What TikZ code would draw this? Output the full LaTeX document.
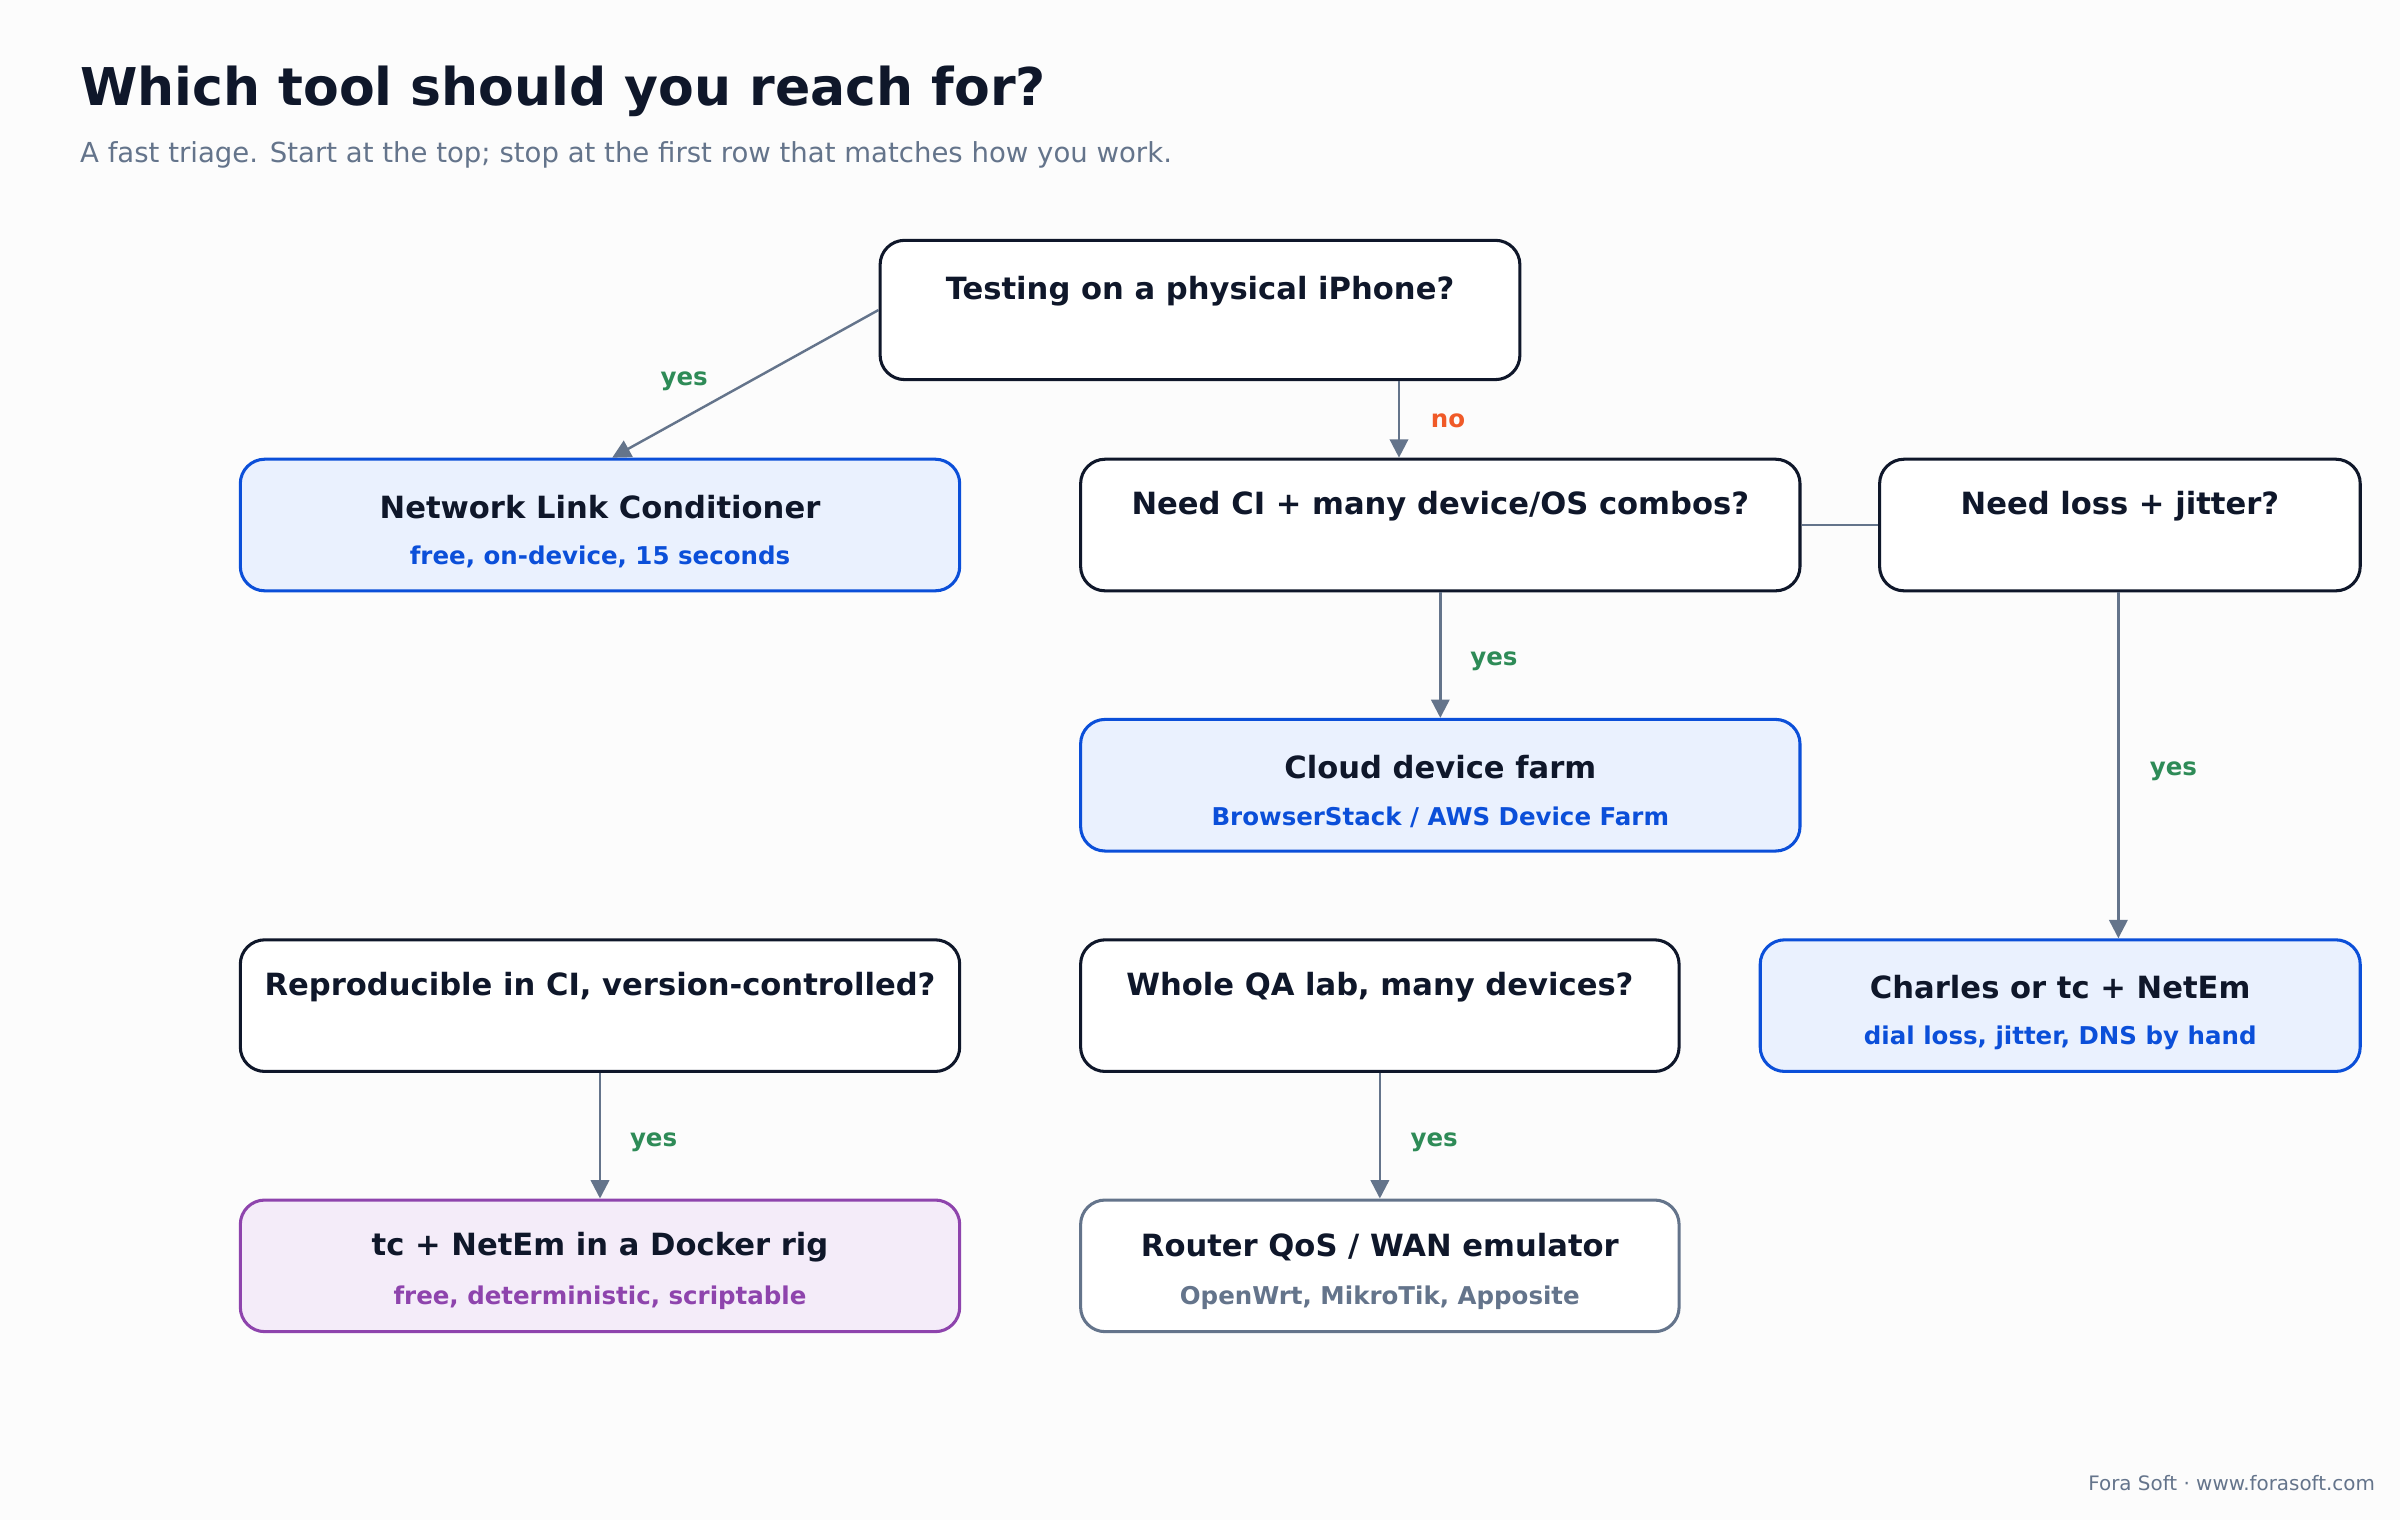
\documentclass[tikz,border=0pt]{standalone}
\usepackage{fontspec}
\setmainfont{DejaVu Sans}
\usetikzlibrary{arrows.meta}
\definecolor{ink}{HTML}{0F172A}
\definecolor{muted}{HTML}{64748B}
\definecolor{blueline}{HTML}{0B4FD9}
\definecolor{bluefill}{HTML}{EAF1FE}
\definecolor{purpline}{HTML}{8E44AD}
\definecolor{purpfill}{HTML}{F4ECF9}
\definecolor{yesgreen}{HTML}{2E8B57}
\definecolor{noorange}{HTML}{F05A28}
\tikzset{
  box/.style={draw=ink,fill=white,line width=1pt,rounded corners=8pt,inner sep=0pt},
  pick/.style={box,draw=blueline,fill=bluefill},
  rig/.style={box,draw=purpline,fill=purpfill},
  hw/.style={box,draw=muted},
  head/.style={font=\bfseries\fontsize{10}{12}\selectfont,text=ink},
  sub/.style={font=\bfseries\fontsize{8}{10}\selectfont},
  edge/.style={draw=muted,line width=0.8pt,-{Triangle[length=6pt,width=6pt]}},
  yes/.style={font=\bfseries\fontsize{8}{10}\selectfont,text=yesgreen},
  no/.style={font=\bfseries\fontsize{8}{10}\selectfont,text=noorange}
}
\begin{document}
\begin{tikzpicture}[x=0.5pt,y=-0.5pt]
\fill[white!99!black] (0,0) rectangle (1568,993);
\useasboundingbox (0,0) rectangle (1568,993);
% title
\node[anchor=base west,inner sep=0pt,font=\bfseries\fontsize{17}{20}\selectfont,text=ink] (title) at (52,69) {Which tool should you reach for?};
\node[anchor=base west,inner sep=0pt,font=\fontsize{9}{11}\selectfont,text=muted] (subtitle) at (52,106) {A fast triage. Start at the top; stop at the first row that matches how you work.};
% boxes
\node[box,minimum width=209pt,minimum height=45.5pt] (top) at (784,202.5) {};
\node[pick,minimum width=235pt,minimum height=43pt] (nlc) at (392,343) {};
\node[box,minimum width=235pt,minimum height=43pt] (ci) at (941,343) {};
\node[box,minimum width=157pt,minimum height=43pt] (loss) at (1385,343) {};
\node[pick,minimum width=235pt,minimum height=43pt] (cloud) at (941,513) {};
\node[box,minimum width=235pt,minimum height=43pt] (repro) at (392,657) {};
\node[box,minimum width=195.5pt,minimum height=43pt] (qa) at (901.5,657) {};
\node[pick,minimum width=196pt,minimum height=43pt] (charles) at (1346,657) {};
\node[rig,minimum width=235pt,minimum height=43pt] (tc) at (392,827) {};
\node[hw,minimum width=195.5pt,minimum height=43pt] (router) at (901.5,827) {};
% box texts
\node[head] (topT) at (784,190) {Testing on a physical iPhone?};
\node[head] (nlcT) at (392,331) {Network Link Conditioner};
\node[sub,text=blueline] (nlcS) at (392,364) {free, on-device, 15 seconds};
\node[head] (ciT) at (941,331) {Need CI + many device/OS combos?};
\node[head] (lossT) at (1385,331) {Need loss + jitter?};
\node[head] (cloudT) at (941,501) {Cloud device farm};
\node[sub,text=blueline] (cloudS) at (941,534) {BrowserStack / AWS Device Farm};
\node[head] (reproT) at (392,645) {Reproducible in CI, version-controlled?};
\node[head] (qaT) at (901.5,645) {Whole QA lab, many devices?};
\node[head] (charlesT) at (1346,645) {Charles or tc + NetEm};
\node[sub,text=blueline] (charlesS) at (1346,678) {dial loss, jitter, DNS by hand};
\node[head] (tcT) at (392,815) {tc + NetEm in a Docker rig};
\node[sub,text=purpline] (tcS) at (392,848) {free, deterministic, scriptable};
\node[head] (routerT) at (901.5,815) {Router QoS / WAN emulator};
\node[sub,text=muted] (routerS) at (901.5,848) {OpenWrt, MikroTik, Apposite};
% connectors
\coordinate (nox) at (914,0);
\coordinate (lossx) at (1384,0);
\draw[edge] (top.west) -- ([xshift=4pt]nlc.north);
\draw[edge] (top.south -| nox) -- (ci.north -| nox);
\draw[draw=muted,line width=0.8pt] (ci.east) -- (loss.west);
\draw[edge] (ci.south) -- (cloud.north);
\draw[edge] (loss.south -| lossx) -- (charles.north -| lossx);
\draw[edge] (repro.south) -- (tc.north);
\draw[edge] (qa.south) -- (router.north);
% edge labels
\node[yes] (y1) at (447,249) {yes};
\node[no] (n1) at (946,275) {no};
\node[yes] (y2) at (976,432) {yes};
\node[yes] (y3) at (1420,504) {yes};
\node[yes] (y4) at (427,746) {yes};
\node[yes] (y5) at (937,746) {yes};
% footer
\node[anchor=base east,inner sep=0pt,font=\fontsize{6.5}{8}\selectfont,text=muted] (footer) at (1552,974) {Fora Soft · www.forasoft.com};
\end{tikzpicture}
\end{document}
